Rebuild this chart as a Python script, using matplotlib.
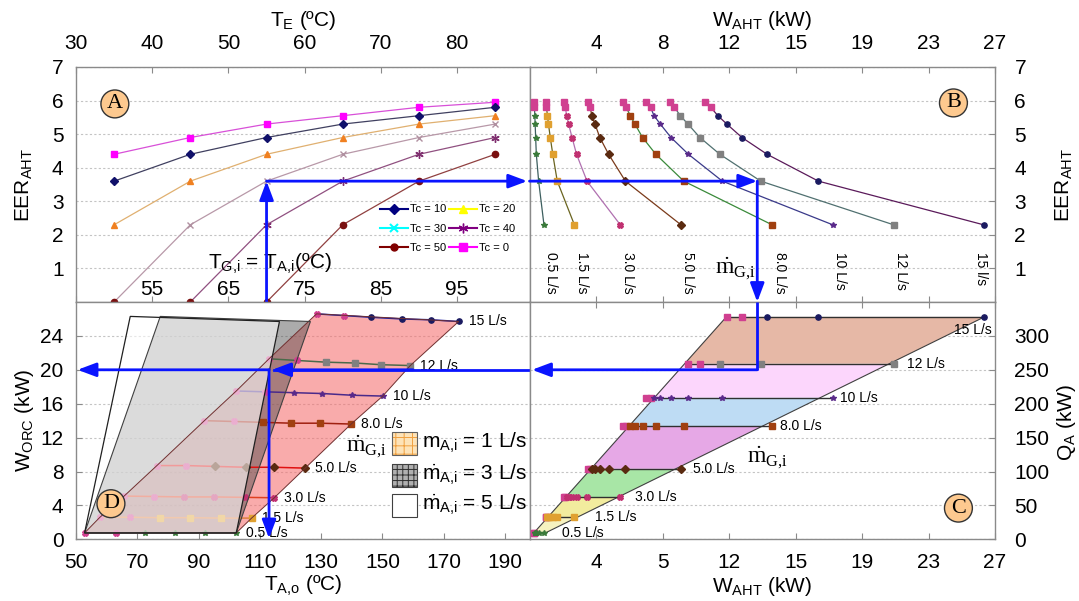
import numpy as np
import matplotlib
matplotlib.use('Agg')
import matplotlib.pyplot as plt
from matplotlib.patches import Polygon, Rectangle
from matplotlib.lines import Line2D

plt.rcParams.update({
    'font.family': ['Liberation Sans', 'DejaVu Sans'],
    'mathtext.fontset': 'custom',
    'mathtext.rm': 'Liberation Serif',
    'mathtext.it': 'Liberation Serif:italic',
    'mathtext.bf': 'Liberation Serif:bold',
    'mathtext.default': 'regular',
    'axes.edgecolor': '#8a8a8a',
    'hatch.linewidth': 0.7,
})

# ---------------- data ----------------
# Panel A : EER vs evaporator temperature for several condenser temperatures
te = [35, 45, 55, 65, 75, 85]
tg_label_pos = [40, 50, 60, 70, 80]
tg_labels = ['55', '65', '75', '85', '95']
eer_tc0 = [4.4, 4.9, 5.3, 5.55, 5.8, 5.95]
eer_tc10 = [3.6, 4.4, 4.9, 5.3, 5.55, 5.8]
eer_tc20 = [2.3, 3.6, 4.4, 4.9, 5.3, 5.55]
eer_tc30 = [0.0, 2.3, 3.6, 4.4, 4.9, 5.3]
eer_tc40 = [np.nan, 0.0, 2.3, 3.6, 4.4, 4.9]
eer_tc50 = [np.nan, np.nan, 0.0, 2.3, 3.6, 4.4]
te_ticks = [30, 40, 50, 60, 70, 80]

# Panel B : EER vs W_AHT (axis units, ticks evenly spaced)
flows = ['0.5', '1.5', '3.0', '5.0', '8.0', '10', '12', '15']
eer_levels = [5.95, 5.8, 5.55, 5.3, 4.9, 4.4, 3.6, 2.3]
waht_05 = [0.30, 0.30, 0.32, 0.34, 0.37, 0.41, 0.55, 0.87]
waht_15 = [0.97, 1.02, 1.08, 1.14, 1.25, 1.40, 1.67, 2.70]
waht_30 = [2.07, 2.15, 2.24, 2.35, 2.56, 2.83, 3.46, 5.46]
waht_50 = [3.50, 3.65, 3.75, 3.94, 4.23, 4.76, 5.77, 9.11]
waht_80 = [5.61, 5.82, 6.06, 6.34, 6.80, 7.60, 9.28, 14.59]
waht_100 = [7.01, 7.28, 7.49, 7.87, 8.51, 9.56, 11.60, 18.24]
waht_120 = [8.45, 8.72, 9.07, 9.53, 10.25, 11.45, 13.91, 21.90]
waht_150 = [10.54, 10.90, 11.33, 11.87, 12.78, 14.29, 17.38, 27.31]
waht_ticks = [4, 8, 12, 16, 20, 24, 28]
waht_top_labels = ['4', '8', '12', '15', '19', '23', '27']
waht_bot_labels = ['4', '5', '12', '15', '19', '23', '27']
b_labels = ['0.5 L/s', '1.5 L/s', '3.0 L/s', '5.0 L/s', '8.0 L/s', '10 L/s', '12 L/s', '15 l/s']

# Panel C : Q_A vs W_AHT
qa = [9.1, 32.3, 62, 104, 167, 209, 259, 328]
c_row_start = [0, 0, 0, 0, 0, 0, 3, 3]
c_edge_q = [9.1, 328]
c_edge_left = [0.25, 11.84]
c_edge_right = [0.93, 27.36]
c_band_colors = ['#f6f2c0', '#f2ec9e', '#a8e6a6', '#e6a8e6', '#bedcf4', '#fcd6fc', '#e6b8a6']

# Panel D : W_ORC vs T_A,o
tao_05 = [52.8, 62.9, 72.5, 82.4, 92.2, 102.3]
tao_15 = [57.8, 67.7, 77.5, 87.3, 97.2, 107.3]
tao_30 = [65.7, 75.5, 85.4, 95.0, 105.1, 114.7]
tao_50 = [76.4, 86.0, 95.5, 105.4, 114.7, 124.8]
tao_80 = [91.9, 101.5, 110.9, 120.3, 129.6, 139.8]
tao_100 = [102.3, 111.8, 121.1, 130.4, 140.0, 150.1]
tao_120 = [113.0, 122.2, 131.6, 141.1, 149.6, 159.1]
tao_150 = [128.5, 137.5, 146.2, 156.3, 165.9, 174.9]
worc_05 = [0.75, 0.75, 0.75, 0.75, 0.75, 0.75]
worc_15 = [2.6, 2.6, 2.55, 2.55, 2.5, 2.5]
worc_30 = [5.1, 5.05, 5.0, 5.0, 4.95, 4.9]
worc_50 = [8.7, 8.7, 8.6, 8.5, 8.5, 8.4]
worc_80 = [14.0, 13.9, 13.8, 13.7, 13.7, 13.6]
worc_100 = [17.5, 17.4, 17.3, 17.2, 17.0, 16.9]
worc_120 = [21.3, 21.1, 20.9, 20.8, 20.6, 20.5]
worc_150 = [26.6, 26.4, 26.2, 26.0, 25.9, 25.7]
d_gray_t = [52.8, 77.5, 126.5, 102.3]
d_gray_w = [0.75, 26.3, 25.7, 0.75]
d_white_t = [52.8, 67.7, 116.4, 102.3]
d_white_w = [0.75, 26.3, 25.7, 0.75]
d_labels = ['0.5 L/s', '1.5 L/s', '3.0 L/s', '5.0 L/s', '8.0 L/s', '10 L/s', '12 L/s', '15 L/s']

# worked example (blue arrows)
ex_te = 55
ex_eer = 3.6
ex_waht = 13.7
ex_qa = 250
ex_worc = 20
ex_tao = 113

waht_all = [waht_05, waht_15, waht_30, waht_50, waht_80, waht_100, waht_120, waht_150]
tao_all = [tao_05, tao_15, tao_30, tao_50, tao_80, tao_100, tao_120, tao_150]
worc_all = [worc_05, worc_15, worc_30, worc_50, worc_80, worc_100, worc_120, worc_150]

# ---------------- style ----------------
flow_line = ['#3d5f5f', '#6a6420', '#b070b0', '#7a3a1a', '#3a8a3a', '#3a3a8a', '#507070', '#5a1a5a']
flow_mark = ['*', 's', 'X', 'D', 's', '*', 's', 'o']
flow_mcol = ['#3a7a3a', '#e0a030', '#c03070', '#5a2a10', '#a04010', '#5a2a8a', '#808080', '#1a1a60']
d_line = ['#8a8a8a', '#e08040', '#e04020', '#e01010', '#a02010', '#4a2a8a', '#4a6a4a', '#2020a0']
BLUE = '#0a14ff'
GRID = dict(color='#c4c4c4', ls=(0, (2, 2)), lw=0.8)
FS = 15
MS = 3.8

W, H = 1079, 601
fig = plt.figure(figsize=(W / 100, H / 100), dpi=100)


def fa(x0, y0, x1, y1):
    return [x0 / W, 1 - y1 / H, (x1 - x0) / W, (y1 - y0) / H]


axA = fig.add_axes(fa(76, 67, 529.5, 302))
axB = fig.add_axes(fa(529.5, 67, 995, 302))
axD = fig.add_axes(fa(76, 302, 529.5, 539.3))
axC = fig.add_axes(fa(529.5, 302, 995, 539.3))
for ax in (axA, axB, axC, axD):
    for s in ax.spines.values():
        s.set_color('#8a8a8a')
        s.set_linewidth(1.0)
    ax.set_axisbelow(True)


def circ(ax, x, y, s):
    ax.text(x, y, s, fontfamily='Liberation Serif', fontsize=16, ha='center', va='center', zorder=20,
            bbox=dict(boxstyle='circle,pad=0.2', fc='#fdc98f', ec='#333333', lw=1))


def arrow(ax, x0, y0, x1, y1):
    ax.annotate('', xy=(x1, y1), xytext=(x0, y0), annotation_clip=False, zorder=15,
                arrowprops=dict(arrowstyle='-|>,head_length=0.8,head_width=0.3', color=BLUE, lw=2,
                                shrinkA=0, shrinkB=0, mutation_scale=14))


MG = r'$\mathrm{\dot{m}}_{\mathrm{G{,}i}}$'

# ---------------- Panel A ----------------
axA.set_xlim(30, 89.5)
axA.set_ylim(0, 7)
a_specs = [(eer_tc0, '#ff00ff', '#d850d8', 's', 5),
           (eer_tc10, '#10106a', '#404060', 'D', 4),
           (eer_tc20, '#f08020', '#e0b070', '^', 5),
           (eer_tc30, '#b090a0', '#b898a8', 'x', 4.5),
           (eer_tc40, '#803070', '#905080', (6, 2, 0), 6),
           (eer_tc50, '#7a1010', '#904040', 'o', 4.5)]
for vals, mc, lc, mk, ms in a_specs:
    v = np.array(vals, float)
    t = np.array(te, float)
    axA.plot(t, v, color=lc, lw=0.9, zorder=3)
    nz = v > 0
    axA.plot(t[nz], v[nz], ls='none', marker=mk, ms=ms, color=mc, mec=mc, zorder=4)
    z = v == 0
    axA.plot(t[z], v[z], ls='none', marker='o', ms=4.5, color='#7a1010', zorder=5, clip_on=False)
axA.xaxis.tick_top()
axA.set_xticks(te_ticks)
axA.set_yticks(range(1, 8))
axA.tick_params(axis='x', top=True, bottom=True, labeltop=True, labelbottom=False, direction='in',
                length=4, color='#8a8a8a', labelsize=FS, pad=10)
axA.tick_params(axis='y', left=True, right=False, direction='in', length=0, labelsize=FS, pad=9)
axA.yaxis.grid(True, **GRID)
for p, l in zip(tg_label_pos, tg_labels):
    axA.text(p, 0.36, l, fontsize=FS, ha='center', va='center')
axA.text(55.4, 1.13, r'T$_{G{,}i}$ = T$_{A{,}i}$(ºC)', fontsize=FS, ha='center', va='center', zorder=6)
circ(axA, 35.1, 5.9, 'A')
leg_h = [Line2D([], [], color='#000080', marker='D', ms=5, lw=1.5),
         Line2D([], [], color='#00ffff', marker='x', ms=6, mew=1.5, lw=1.5),
         Line2D([], [], color='#800000', marker='o', ms=5, lw=1.5),
         Line2D([], [], color='#ffff00', marker='^', ms=6, lw=1.5),
         Line2D([], [], color='#800080', marker=(6, 2, 0), ms=7, lw=1.5),
         Line2D([], [], color='#ff00ff', marker='s', ms=6, lw=1.5)]
leg_l = ['Tc = 10', 'Tc = 30', 'Tc = 50', 'Tc = 20', 'Tc = 40', 'Tc = 0']
axA.legend(leg_h, leg_l, ncol=2, loc='upper left', bbox_to_anchor=(0.67, 0.415), frameon=False,
           fontsize=8, handlelength=2.5, handletextpad=0.2, columnspacing=0.25, labelspacing=0.85,
           borderpad=0, borderaxespad=0)
arrow(axA, ex_te, 0, ex_te, ex_eer)
arrow(axA, ex_te, ex_eer, 89.2, ex_eer)

# ---------------- Panel B ----------------
axB.set_xlim(0, 28)
axB.set_ylim(0, 7)
for i, w in enumerate(waht_all):
    axB.plot(w, eer_levels, color=flow_line[i], lw=0.9, zorder=3)
    axB.plot(w[:2], eer_levels[:2], ls='none', marker='s', ms=MS, color='#d04090', zorder=4)
    axB.plot(w[2:], eer_levels[2:], ls='none', marker=flow_mark[i], ms=MS, color=flow_mcol[i], zorder=4)
    lx = min(w[-1] + 0.45, 27.15)
    axB.text(lx, 1.5, b_labels[i], rotation=-90, fontsize=10, ha='center', va='top')
axB.xaxis.tick_top()
axB.set_xticks(waht_ticks)
axB.set_xticklabels(waht_top_labels)
axB.set_yticks(range(1, 8))
axB.tick_params(axis='x', top=True, bottom=True, labeltop=True, labelbottom=False, direction='in',
                length=4, color='#8a8a8a', labelsize=FS, pad=10)
axB.yaxis.tick_right()
axB.tick_params(axis='y', right=True, left=False, direction='in', length=4, color='#8a8a8a',
                labelsize=FS, pad=14)
axB.yaxis.grid(True, **GRID)
axB.text(12.4, 1.0, MG, fontsize=17, ha='center', va='center')
circ(axB, 25.5, 5.93, 'B')
arrow(axB, 0, ex_eer, ex_waht, ex_eer)
arrow(axB, ex_waht, ex_eer, ex_waht, 0)

# ---------------- Panel C ----------------
axC.set_xlim(0, 28)
axC.set_ylim(0, 350)
for k in range(len(qa) - 1):
    q0, q1 = qa[k], qa[k + 1]
    l0 = np.interp(q0, c_edge_q, c_edge_left)
    l1 = np.interp(q1, c_edge_q, c_edge_left)
    r0 = np.interp(q0, c_edge_q, c_edge_right)
    r1 = np.interp(q1, c_edge_q, c_edge_right)
    axC.add_patch(Polygon([(l0, q0), (l1, q1), (r1, q1), (r0, q0)], closed=True,
                          fc=c_band_colors[k], ec='none', zorder=2))
axC.plot(c_edge_left, c_edge_q, color='#404040', lw=0.8, zorder=3)
axC.plot(c_edge_right, c_edge_q, color='#404040', lw=0.8, zorder=3)
c_lab_dx = [1.1, 1.25, 0.9, 0.75, 0.5, 0.45, 0.8]
for i, w in enumerate(waht_all):
    ws = w[c_row_start[i]:]
    axC.plot(ws, [qa[i]] * len(ws), color='#303030', lw=1.0, zorder=4)
    axC.plot(ws[:2], [qa[i]] * 2, ls='none', marker='s', ms=MS, color='#d04090', zorder=5)
    axC.plot(ws[2:], [qa[i]] * len(ws[2:]), ls='none', marker=flow_mark[i], ms=MS, color=flow_mcol[i], zorder=5)
    if i < len(qa) - 1:
        axC.text(ws[-1] + c_lab_dx[i], qa[i], d_labels[i], fontsize=10, ha='left', va='center')
    else:
        axC.text(27.8, qa[i] - 19, d_labels[i], fontsize=10, ha='right', va='center')
axC.set_xticks(waht_ticks)
axC.set_xticklabels(waht_bot_labels)
axC.set_yticks(range(0, 301, 50))
axC.tick_params(axis='x', top=True, bottom=True, direction='in', length=4, color='#8a8a8a',
                labelsize=FS, pad=10)
axC.yaxis.tick_right()
axC.tick_params(axis='y', right=True, left=False, direction='in', length=4, color='#8a8a8a',
                labelsize=FS, pad=14)
axC.yaxis.grid(True, **GRID)
axC.text(14.3, 122, MG, fontsize=17, ha='center', va='center')
circ(axC, 25.8, 46, 'C')
axC.plot([ex_waht, ex_waht], [350, ex_qa], color=BLUE, lw=2, zorder=15, solid_capstyle='butt')
arrow(axC, ex_waht, ex_qa, 0.15, ex_qa)

# ---------------- Panel D ----------------
axD.set_xlim(50, 198)
axD.set_ylim(0, 28)
pink_pts = [(t[0], w[0]) for t, w in zip(tao_all, worc_all)] + \
           [(t[-1], w[-1]) for t, w in zip(tao_all[::-1], worc_all[::-1])]
axD.add_patch(Polygon(pink_pts, closed=True, fc='#f56e6e', alpha=0.58, ec='none', zorder=1))
axD.add_patch(Polygon(pink_pts, closed=True, fc='none', ec='#703030', lw=0.7, zorder=6))
axD.add_patch(Polygon(list(zip(d_gray_t, d_gray_w)), closed=True, fc='#464646', alpha=0.45, ec='none', zorder=2))
for i in range(len(tao_all)):
    axD.plot(tao_all[i], worc_all[i], color=d_line[i], lw=1.1, zorder=3)
    axD.plot(tao_all[i][:2], worc_all[i][:2], ls='none', marker='X', ms=MS, color='#d04090', zorder=3)
    axD.plot(tao_all[i][2:], worc_all[i][2:], ls='none', marker=flow_mark[i], ms=MS, color=flow_mcol[i], zorder=3)
    axD.text(tao_all[i][-1] + 3.3, worc_all[i][-1], d_labels[i], fontsize=10, ha='left', va='center', zorder=7)
axD.add_patch(Polygon(list(zip(d_white_t, d_white_w)), closed=True, fc='white', alpha=0.58, ec='none', zorder=4))
axD.add_patch(Polygon(list(zip(d_gray_t, d_gray_w)), closed=True, fc='none', ec='#404040', lw=0.8, zorder=6))
axD.add_patch(Polygon(list(zip(d_white_t, d_white_w)), closed=True, fc='none', ec='#202020', lw=0.9, zorder=6))
axD.set_xticks(range(50, 191, 20))
axD.set_yticks(range(0, 25, 4))
axD.tick_params(axis='x', top=False, bottom=True, direction='in', length=4, color='#8a8a8a',
                labelsize=FS, pad=10)
axD.tick_params(axis='y', left=True, right=False, direction='in', length=4, color='#8a8a8a',
                labelsize=FS, pad=9)
axD.yaxis.grid(True, **GRID)
circ(axD, 61.4, 4.2, 'D')
axD.text(151.3, 11.0, MG, fontsize=17, ha='right', va='center', zorder=8)
axD.plot([198, ex_tao + 1.5], [ex_worc, ex_worc], color=BLUE, lw=2, zorder=15)
arrow(axD, 160, ex_worc, ex_tao + 1.0, ex_worc)
arrow(axD, ex_tao, ex_worc, 50.5, ex_worc)
arrow(axD, ex_tao, ex_worc, ex_tao, 0.1)


# legend of D (pixel-placed boxes)
def fbox(x0, y0, x1, y1, **kw):
    r = Rectangle((x0 / W, 1 - y1 / H), (x1 - x0) / W, (y1 - y0) / H, transform=fig.transFigure, **kw)
    fig.add_artist(r)


fbox(392, 431.5, 416.5, 455, fc='#fde3b8', ec='#f0a040', hatch='++', lw=0, zorder=10)
fbox(392, 431.5, 416.5, 455, fc='none', ec='#606060', lw=0.8, zorder=11)
fbox(392, 463.5, 416.5, 487, fc='#b0b0b0', ec='#303030', hatch='+++', lw=0, zorder=10)
fbox(392, 463.5, 416.5, 487, fc='none', ec='#404040', lw=0.8, zorder=11)
fbox(392, 493.5, 416.5, 516.5, fc='white', ec='#404040', lw=0.8, zorder=10)
for yy, s in [(443, r'm$_{A{,}i}$ = 1 L/s'), (475, r'$\dot{m}_{A{,}i}$ = 3 L/s'),
              (505, r'$\dot{m}_{A{,}i}$ = 5 L/s')]:
    fig.text(422 / W, 1 - yy / H, s, fontsize=FS, ha='left', va='center', zorder=12)

# axis titles
fig.text(303 / W, 1 - 20 / H, r'T$_E$ (ºC)', fontsize=FS, ha='center', va='center')
fig.text(762 / W, 1 - 20 / H, r'W$_{AHT}$ (kW)', fontsize=FS, ha='center', va='center')
fig.text(303 / W, 1 - 586 / H, r'T$_{A{,}o}$ (ºC)', fontsize=FS, ha='center', va='center')
fig.text(762 / W, 1 - 586 / H, r'W$_{AHT}$ (kW)', fontsize=FS, ha='center', va='center')
fig.text(24 / W, 1 - 185 / H, r'EER$_{AHT}$', fontsize=FS, ha='center', va='center', rotation=90)
fig.text(24 / W, 1 - 420 / H, r'W$_{ORC}$ (kW)', fontsize=FS, ha='center', va='center', rotation=90)
fig.text(1064 / W, 1 - 185 / H, r'EER$_{AHT}$', fontsize=FS, ha='center', va='center', rotation=90)
fig.text(1066 / W, 1 - 422 / H, r'Q$_A$ (kW)', fontsize=FS, ha='center', va='center', rotation=90)

fig.savefig('out.png', dpi=100)
